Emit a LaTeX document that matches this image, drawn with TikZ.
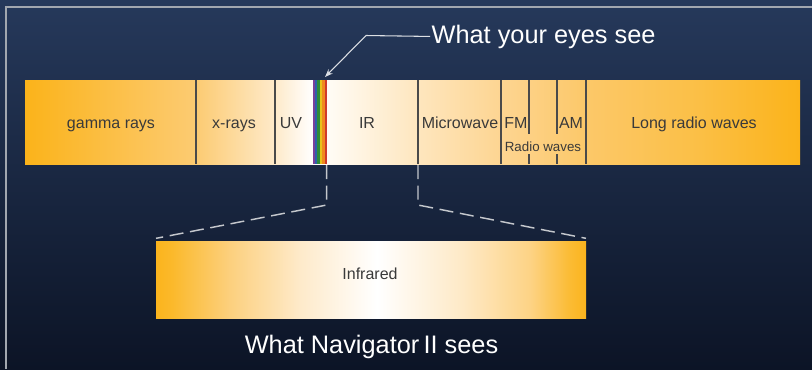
\documentclass[tikz,border=0pt]{standalone}
\usepackage{fontspec}
\setmainfont{Liberation Sans}
\usetikzlibrary{arrows.meta}
\definecolor{bgtop}{HTML}{26395B}
\definecolor{bgbot}{HTML}{0C1426}
\definecolor{frameline}{HTML}{A2A7AF}
\definecolor{divline}{HTML}{4A4A4A}
\definecolor{bartext}{HTML}{3A3A3A}
\definecolor{dashline}{HTML}{C4C7CC}
\definecolor{pointerline}{HTML}{DCDFE4}
% main bar stops
\definecolor{mA}{HTML}{FBB31A}
\definecolor{mB}{HTML}{FCCB72}
\definecolor{mC}{HTML}{FEEACA}
\definecolor{mD}{HTML}{FFFFFF}
\definecolor{mE}{HTML}{FFFBF4}
\definecolor{mF}{HTML}{FEE6BE}
\definecolor{mG}{HTML}{FDD592}
\definecolor{mH}{HTML}{FCC869}
\definecolor{mI}{HTML}{FBBF45}
% lower bar stops
\definecolor{lA}{HTML}{FBB41D}
\definecolor{lB}{HTML}{FBB92B}
\definecolor{lC}{HTML}{FCD07E}
\definecolor{lD}{HTML}{FEEACA}
\definecolor{lE}{HTML}{FFFFFF}
\definecolor{lF}{HTML}{FEE9C6}
\definecolor{lG}{HTML}{FDD385}
\definecolor{lH}{HTML}{FBBB33}
% rainbow
\definecolor{rb1}{HTML}{7B3F9A}
\definecolor{rb2}{HTML}{2E5FAB}
\definecolor{rb3}{HTML}{2E8B3A}
\definecolor{rb4}{HTML}{E8C21A}
\definecolor{rb5}{HTML}{F08A1E}
\definecolor{rb6}{HTML}{D03A2A}
\pgfdeclarehorizontalshading{mainbarshade}{100bp}{color(0bp)=(mA); color(25bp)=(mA); color(36.03bp)=(mB); color(41.13bp)=(mC); color(43.58bp)=(mD); color(44.68bp)=(mE); color(50.35bp)=(mF); color(55.65bp)=(mG); color(61.19bp)=(mH); color(68.55bp)=(mI); color(75bp)=(mA); color(100bp)=(mA)}
\pgfdeclarehorizontalshading{navbarshade}{100bp}{color(0bp)=(lA); color(25bp)=(lA); color(26.86bp)=(lB); color(33.6bp)=(lC); color(41.74bp)=(lD); color(50.7bp)=(lE); color(60.7bp)=(lF); color(68.5bp)=(lG); color(73.14bp)=(lH); color(75bp)=(lA); color(100bp)=(lA)}
\tikzset{
  barlabel/.style={text=bartext, font=\fontsize{12}{14}\selectfont, inner sep=0pt, anchor=base},
  smalllabel/.style={text=bartext, font=\fontsize{10}{12}\selectfont, inner sep=0pt, anchor=base},
  title/.style={text=white, font=\fontsize{19}{22}\selectfont, inner sep=1pt},
  divider/.style={draw=divline, line width=0.9pt},
  dashedconn/.style={draw=dashline, line width=1.1pt, dash pattern=on 10.5pt off 5pt},
  pointer/.style={draw=pointerline, line width=0.8pt, -{Stealth[length=6pt,width=4.5pt]}},
}
\begin{document}
\begin{tikzpicture}[x=0.75pt,y=-0.75pt]
\useasboundingbox (0,0) rectangle (812,369);
\clip (0,0) rectangle (812,369);
% background
\shade[top color=bgtop, bottom color=bgbot] (0,0) rectangle (812,369);
% frame
\draw[frameline, line width=1.5pt] (5.5,369) -- (5.5,7) -- (812,7);
% main spectrum bar
\node[rectangle, shading=mainbarshade, minimum width=581.25pt, minimum height=63pt, inner sep=0pt, outer sep=0pt] (spectrum) at (412.5,122) {};
% rainbow (visible light)
\fill[rb1] (312.6,80) rectangle (315.0,164);
\fill[rb2] (315.0,80) rectangle (317.4,164);
\fill[rb3] (317.4,80) rectangle (319.8,164);
\fill[rb4] (319.8,80) rectangle (322.2,164);
\fill[rb5] (322.2,80) rectangle (324.6,164);
\fill[rb6] (324.6,80) rectangle (326.9,164);
% dividers
\draw[divider] (196,80) -- (196,164);
\draw[divider] (275,80) -- (275,164);
\draw[divider] (418,80) -- (418,164);
\draw[divider] (501,80) -- (501,164);
\draw[divider] (529,80) -- (529,134);
\draw[divider] (529,154) -- (529,164);
\draw[divider] (557,80) -- (557,134);
\draw[divider] (557,154) -- (557,164);
\draw[divider] (586,80) -- (586,164);
% labels in main bar
\node[barlabel] (gamma) at (111,128) {gamma rays};
\node[barlabel] (xray) at (234,128) {x-rays};
\node[barlabel] (uv) at (291,128) {UV};
\node[barlabel] (ir) at (367,128) {IR};
\node[barlabel] (micro) at (460,128) {Microwave};
\node[barlabel] (fm) at (516,128) {FM};
\node[barlabel] (am) at (571,128) {AM};
\node[smalllabel] (radio) at (543,151) {Radio waves};
\node[barlabel] (longradio) at (694,128) {Long radio waves};
% lower bar
\node[rectangle, shading=navbarshade, minimum width=322.5pt, minimum height=57.75pt, inner sep=0pt, outer sep=0pt] (navbar) at (371,279.5) {};
\node[barlabel] (infrared) at (370,279) {Infrared};
% titles
\node[title, anchor=base west] (eyes) at (430,43) {What your eyes see};
\node[title, anchor=base] (navsees) at (371.5,353) {What Navigator\,II sees};
% pointer
\coordinate (vis) at (325,77);
\draw[pointer] (eyes.west) -- (366,35.5) -- (vis);
% dashed zoom lines
\coordinate (irL) at (326.7,165);
\coordinate (irR) at (418,165);
\draw[dashedconn] (irL) -- (326.7,205) -- ([yshift=2pt]navbar.north west);
\draw[dashedconn] (irR) -- (418,205) -- ([yshift=2pt]navbar.north east);
\end{tikzpicture}
\end{document}
